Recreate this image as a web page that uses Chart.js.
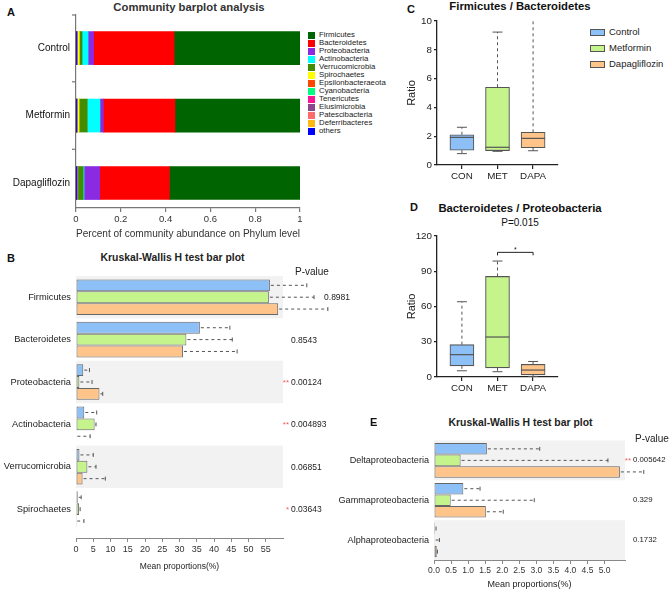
<!DOCTYPE html>
<html><head><meta charset="utf-8">
<script src="https://cdn.jsdelivr.net/npm/chart.js@4.4.1/dist/chart.umd.min.js"></script>
<style>
html,body{margin:0;padding:0;background:#fff;}
body{width:669px;height:593px;position:relative;overflow:hidden;font-family:"Liberation Sans",Arial,sans-serif;}
</style></head><body>
<script>
// ---------------- DATA ----------------
// Panel A
const groupsA = ['Control', 'Metformin', 'Dapagliflozin'];
const phyla = ['Firmicutes','Bacteroidetes','Proteobacteria','Actinobacteria','Verrucomicrobia','Spirochaetes','Epsilonbacteraeota','Cyanobacteria','Tenericutes','Elusimicrobia','Patescibacteria','Deferribacteres','others'];
const phylaColors = ['#006400','#FF0000','#8A2BE2','#00FFFF','#458B00','#FFFF00','#FF4500','#00FF7F','#FF1493','#8B478B','#FF6A6A','#FFB90F','#0000FF'];
const abundControl = [0.562,0.359,0.025,0.027,0.012,0.008,0.001,0.001,0.001,0.0005,0.001,0.001,0.0015];
const abundMetformin = [0.558,0.320,0.015,0.057,0.036,0.008,0.001,0.0005,0.001,0.0005,0.001,0.001,0.001];
const abundDapagliflozin = [0.583,0.311,0.070,0.004,0.024,0.001,0.001,0.0005,0.002,0.001,0.001,0.0005,0.001];
const xTicksA = [0, 0.2, 0.4, 0.6, 0.8, 1];

// Panel B
const groupNames = ['Control', 'Metformin', 'Dapagliflozin'];
const groupColors = ['#8EC0F8', '#C6F48C', '#FEC489'];
const kwPhyla = ['Firmicutes','Bacteroidetes','Proteobacteria','Actinobacteria','Verrucomicrobia','Spirochaetes'];
const kwControl = [56.2, 35.9, 2.1, 2.4, 1.0, 0.5];
const kwControlSd = [10.7, 8.7, 1.8, 3.6, 4.0, 1.0];
const kwMetformin = [55.9, 32.0, 0.97, 5.4, 3.3, 0.9];
const kwMetforminSd = [13.1, 13.3, 3.68, 0.4, 2.5, 0.3];
const kwDapagliflozin = [58.6, 31.0, 6.8, 0.1, 1.9, 0.05];
const kwDapagliflozinSd = [14.4, 15.7, 0.95, 4.0, 6.6, 2.25];
const kwP = ['0.8981', '0.8543', '0.00124', '0.004893', '0.06851', '0.03643'];
const kwStars = ['', '', '**', '**', '', '*'];

// Panel C
const boxLabels = ['CON', 'MET', 'DAPA'];
const fbMin = [0.79, 0.95, 0.99];
const fbQ1 = [1.03, 1.0, 1.2];
const fbMed = [1.92, 1.23, 1.85];
const fbQ3 = [2.1, 5.4, 2.27];
const fbMax = [2.62, 9.23, 13.0];

// Panel D
const bpMin = [5.3, 4.5, 0.5];
const bpQ1 = [9.5, 7.8, 1.8];
const bpMed = [19.0, 34.0, 5.9];
const bpQ3 = [27.5, 85.5, 10.7];
const bpMax = [64.0, 98.6, 13.2];
const bpSigPair = [1, 2];
const bpSigLevel = 106;
const bpSigLabel = '*';
const bpPText = 'P=0.015';

// Panel E
const kwClasses = ['Deltaproteobacteria','Gammaproteobacteria','Alphaproteobacteria'];
const eControl = [1.55, 0.86, 0.03];
const eControlSd = [1.55, 0.49, 0.03];
const eMetformin = [0.78, 0.49, 0.02];
const eMetforminSd = [4.32, 2.45, 0.14];
const eDapagliflozin = [5.45, 1.52, 0.08];
const eDapagliflozinSd = [0.70, 0.51, 0.02];
const eP = ['0.005642', '0.329', '0.1732'];
const eStars = ['**', '', ''];

// ---------------- HELPERS ----------------
const FONT = "'Liberation Sans', Arial, sans-serif";
Chart.defaults.font.family = FONT;
Chart.defaults.color = '#222';
Chart.defaults.animation = false;
Chart.defaults.plugins.legend.display = false;
Chart.defaults.plugins.tooltip.enabled = false;

function mkCanvas(left, top, w, h) {
  const c = document.createElement('canvas');
  c.width = w; c.height = h;
  c.style.cssText = `position:absolute;left:${left}px;top:${top}px;width:${w}px;height:${h}px;`;
  document.body.appendChild(c);
  return c;
}
function txt(s, x, y, o = {}) {
  const d = document.createElement('div');
  d.textContent = s;
  const ax = o.align === 'center' ? '-50%' : o.align === 'right' ? '-100%' : '0';
  d.style.cssText = `position:absolute;left:${x}px;top:${y}px;transform:translate(${ax},-50%);white-space:nowrap;line-height:1;font-size:${o.size || 10}px;font-weight:${o.bold ? 'bold' : 'normal'};color:${o.color || '#111'};`;
  document.body.appendChild(d);
  return d;
}
function box(x, y, w, h, color, border) {
  const d = document.createElement('div');
  d.style.cssText = `position:absolute;left:${x}px;top:${y}px;width:${w}px;height:${h}px;background:${color};box-sizing:border-box;${border ? 'border:1px solid ' + border + ';' : ''}`;
  document.body.appendChild(d);
}

// ---------------- PANEL A ----------------
txt('A', 7, 12, {size: 11, bold: true});
txt('Community barplot analysis', 189, 8, {size: 11.3, bold: true, align: 'center', color: '#333'});
const abundByGroup = [abundControl, abundMetformin, abundDapagliflozin];
const dsA = phyla.map((p, k) => ({
  label: p,
  data: abundByGroup.map((a, g) => ({x: a[k], y: g + 1})),
  backgroundColor: phylaColors[k],
  borderWidth: 0,
  barThickness: 33
})).reverse();
const bandTickPlugin = {
  id: 'bandticks',
  afterDraw(chart) {
    const ys = chart.scales.y, ctx = chart.ctx, x = chart.chartArea.left;
    const vals = [ys.min];
    for (let i = 1; i < groupsA.length; i++) vals.push(i + 0.5);
    ctx.save(); ctx.strokeStyle = '#777'; ctx.lineWidth = 1.2;
    vals.forEach(v => { const y = ys.getPixelForValue(v); ctx.beginPath(); ctx.moveTo(x - 4, y); ctx.lineTo(x, y); ctx.stroke(); });
    ctx.restore();
  }
};
new Chart(mkCanvas(0, 0, 305, 240), {
  type: 'bar',
  data: {datasets: dsA},
  plugins: [bandTickPlugin],
  options: {
    responsive: false, indexAxis: 'y',
    layout: {padding: {top: 15, left: 0, right: 5, bottom: 0}},
    scales: {
      x: {
        type: 'linear', stacked: true, min: 0, max: 1,
        afterBuildTicks: s => { s.ticks = xTicksA.map(v => ({value: v})); },
        afterFit: s => { s.height = 32; },
        ticks: {font: {size: 9.5}, color: '#333', padding: 2, maxRotation: 0,
          callback: v => (v === 0 || v === 1) ? String(v) : v.toFixed(1)},
        grid: {drawOnChartArea: false, tickLength: 4, color: '#777', lineWidth: 1.2},
        border: {color: '#777', width: 1.2},
        title: {display: true, text: 'Percent of community abundance on Phylum level', font: {size: 10.5}, color: '#333', padding: 0}
      },
      y: {
        type: 'linear', stacked: true, reverse: true, min: 0.51, max: 3.37, offset: false,
        afterBuildTicks: s => { s.ticks = groupsA.map((_, i) => ({value: i + 1})); },
        afterFit: s => { s.width = 76; },
        ticks: {font: {size: 10}, color: '#111', padding: 6, callback: v => groupsA[Math.round(v) - 1]},
        grid: {offset: false, drawOnChartArea: false, drawTicks: false},
        border: {color: '#777', width: 1.2}
      }
    }
  }
});
phyla.forEach((p, i) => {
  const cy = 35 + i * 8;
  box(308, cy - 3.5, 7, 7, phylaColors[i]);
  txt(p, 319, cy, {size: 7.8, color: '#222'});
});

// ---------------- shared plugins ----------------
const bandPlugin = {
  id: 'bands',
  beforeDatasetsDraw(chart) {
    const ys = chart.scales.y, ca = chart.chartArea;
    const n = chart.data.datasets[0].data.length;
    const ctx = chart.ctx;
    ctx.save();
    ctx.fillStyle = '#F2F2F2';
    for (let i = 0; i < n; i += 2) {
      const y0 = ys.getPixelForValue(i - 0.5), y1 = ys.getPixelForValue(i + 0.5);
      ctx.fillRect(ca.left, y0, ca.right - ca.left, y1 - y0);
    }
    ctx.restore();
  }
};
const errPlugin = {
  id: 'errbars',
  afterDatasetsDraw(chart, args, opts) {
    const ctx = chart.ctx, xs = chart.scales.x;
    ctx.save();
    ctx.strokeStyle = '#555'; ctx.lineWidth = 1;
    chart.data.datasets.forEach((ds, di) => {
      const meta = chart.getDatasetMeta(di);
      meta.data.forEach((bar, i) => {
        const m = ds.data[i].x, sd = opts.sds[di][i];
        const x0 = xs.getPixelForValue(m), x1 = xs.getPixelForValue(m + sd), y = bar.y;
        ctx.setLineDash([3, 3]);
        ctx.beginPath(); ctx.moveTo(x0 + 1, y); ctx.lineTo(x1, y); ctx.stroke();
        ctx.setLineDash([]);
        ctx.beginPath(); ctx.moveTo(x1, y - 2); ctx.lineTo(x1, y + 2); ctx.stroke();
      });
    });
    ctx.restore();
  }
};

function kwChart(canvas, labels, series, sds, cfg) {
  return new Chart(canvas, {
    type: 'bar',
    data: {
      datasets: series.map((d, i) => ({
        label: groupNames[i], data: d.map((v, k) => ({x: v, y: k})),
        backgroundColor: groupColors[i], borderColor: '#666', borderWidth: 1, borderSkipped: false,
        barPercentage: 1, categoryPercentage: cfg.catPct, clip: false
      }))
    },
    plugins: [bandPlugin, errPlugin],
    options: {
      responsive: false, indexAxis: 'y',
      layout: {padding: cfg.padding},
      plugins: {errbars: {sds}},
      scales: {
        x: {
          type: 'linear', min: 0, max: cfg.xMax,
          ticks: {stepSize: cfg.step, font: {size: cfg.tickSize}, color: '#333', padding: 2, maxRotation: 0,
            callback: cfg.fmt},
          afterBuildTicks: s => { s.ticks = s.ticks.filter(t => t.value <= cfg.lastTick + 1e-6); },
          afterFit: s => { s.height = cfg.xH; },
          grid: {drawOnChartArea: false, tickLength: 4, color: '#888'},
          border: {color: '#888'},
          title: {display: true, text: 'Mean proportions(%)', font: {size: cfg.titleSize}, color: '#222', padding: 0}
        },
        y: {
          type: 'linear', reverse: true, min: -0.5, max: cfg.yMax, offset: false,
          afterBuildTicks: s => { s.ticks = labels.map((_, i) => ({value: i})); },
          afterFit: s => { s.width = cfg.yW; },
          ticks: {font: {size: cfg.labelSize}, color: '#222', padding: 5, callback: v => labels[Math.round(v)]},
          grid: {offset: false, display: false, drawTicks: false},
          border: {display: false}
        }
      }
    }
  });
}
function pvalues(chart, top, pv, stars, midSd, midVal, headerX, headerY, pSize, baseX) {
  const ys = chart.scales.y, xs = chart.scales.x;
  const left = chart.canvas.offsetLeft;
  txt('P-value', headerX, headerY, {size: 10, color: '#222'});
  pv.forEach((p, i) => {
    const y = top + ys.getPixelForValue(i);
    const errEnd = left + xs.getPixelForValue(midVal[i] + midSd[i]) + 10;
    const x = Math.max(baseX, errEnd);
    txt(p, x, y, {size: pSize, color: '#222'});
    if (stars[i]) txt(stars[i], x - 2, y + 1, {size: 8, color: '#F06060', align: 'right'});
  });
}

// ---------------- PANEL B ----------------
txt('B', 7, 258, {size: 11, bold: true});
txt('Kruskal-Wallis H test bar plot', 172.5, 258, {size: 10.4, bold: true, align: 'center', color: '#222'});
const chB = kwChart(mkCanvas(0, 250, 340, 322), kwPhyla,
  [kwControl, kwMetformin, kwDapagliflozin], [kwControlSd, kwMetforminSd, kwDapagliflozinSd],
  {catPct: 0.84, padding: {top: 26, left: 0, right: 57, bottom: 0}, xMax: 60, step: 5, lastTick: 55,
   tickSize: 9, fmt: v => String(v), xH: 34, yW: 76, titleSize: 8.5, yMax: 5.68, labelSize: 9.3});
pvalues(chB, 250, kwP, kwStars, kwMetforminSd, kwMetformin, 295, 272, 8.5, 291);

// ---------------- PANEL E ----------------
txt('E', 370, 422, {size: 11, bold: true});
txt('Kruskal-Wallis H test bar plot', 520.5, 423, {size: 10.4, bold: true, align: 'center', color: '#222'});
const chE = kwChart(mkCanvas(330, 430, 339, 160), kwClasses,
  [eControl, eMetformin, eDapagliflozin], [eControlSd, eMetforminSd, eDapagliflozinSd],
  {catPct: 0.868, padding: {top: 9, left: 0, right: 44, bottom: 0}, xMax: 5.6, step: 0.5, lastTick: 5.0,
   tickSize: 8.5, fmt: v => v.toFixed(1), xH: 30, yW: 104, titleSize: 9, yMax: 2.5, labelSize: 9.1});
pvalues(chE, 430, eP, eStars, eMetforminSd, eMetformin, 635, 439, 7.8, 633);

// ---------------- PANELS C & D (box plots) ----------------
function boxPlugin(mins, q1s, meds, q3s, maxs, sig) {
  return {
    id: 'boxwhisk',
    afterDatasetsDraw(chart) {
      const ctx = chart.ctx, xs = chart.scales.x, ys = chart.scales.y, ca = chart.chartArea;
      ctx.save();
      ctx.beginPath(); ctx.rect(ca.left, ca.top - 1, ca.right - ca.left, ca.bottom - ca.top + 2); ctx.clip();
      ctx.strokeStyle = '#555'; ctx.lineWidth = 1;
      boxLabels.forEach((_, i) => {
        const xc = xs.getPixelForValue(i);
        const yMin = ys.getPixelForValue(mins[i]), yQ1 = ys.getPixelForValue(q1s[i]);
        const yQ3 = ys.getPixelForValue(q3s[i]), yMax = ys.getPixelForValue(maxs[i]);
        const yMed = ys.getPixelForValue(meds[i]);
        ctx.setLineDash([3, 3]);
        ctx.beginPath(); ctx.moveTo(xc, yQ3); ctx.lineTo(xc, yMax); ctx.stroke();
        ctx.beginPath(); ctx.moveTo(xc, yQ1); ctx.lineTo(xc, yMin); ctx.stroke();
        ctx.setLineDash([]);
        ctx.beginPath(); ctx.moveTo(xc - 5, yMax); ctx.lineTo(xc + 5, yMax); ctx.stroke();
        ctx.beginPath(); ctx.moveTo(xc - 5, yMin); ctx.lineTo(xc + 5, yMin); ctx.stroke();
        ctx.lineWidth = 1.2;
        ctx.beginPath(); ctx.moveTo(xc - 12, yMed); ctx.lineTo(xc + 12, yMed); ctx.stroke();
        ctx.lineWidth = 1;
      });
      ctx.restore();
      if (sig) {
        const xa = xs.getPixelForValue(sig.pair[0]), xb = xs.getPixelForValue(sig.pair[1]);
        const y = ys.getPixelForValue(sig.level);
        ctx.save(); ctx.strokeStyle = '#222'; ctx.lineWidth = 1;
        ctx.beginPath(); ctx.moveTo(xa, y + 3); ctx.lineTo(xa, y); ctx.lineTo(xb, y); ctx.lineTo(xb, y + 3); ctx.stroke();
        ctx.restore();
      }
    }
  };
}
function boxChart(canvas, q1s, q3s, plugin, cfg) {
  return new Chart(canvas, {
    type: 'bar',
    data: {
      datasets: [{
        data: boxLabels.map((l, i) => ({x: i, y: [q1s[i], q3s[i]]})),
        backgroundColor: groupColors, borderColor: '#555', borderWidth: 1.1, borderSkipped: false,
        barThickness: 24
      }]
    },
    plugins: [plugin],
    options: {
      responsive: false,
      layout: {padding: cfg.padding},
      scales: {
        x: {
          type: 'linear', min: -0.7, max: 2.7, offset: false,
          afterBuildTicks: s => { s.ticks = boxLabels.map((_, i) => ({value: i})); },
          afterFit: s => { s.height = 20; },
          ticks: {font: {size: 9.8}, color: '#222', padding: 1, maxRotation: 0,
            callback: v => boxLabels[Math.round(v)]},
          grid: {offset: false, drawOnChartArea: false, tickLength: 4, color: '#222', lineWidth: 1.2},
          border: {color: '#222', width: 1.3}
        },
        y: {
          min: 0, max: cfg.yMax,
          afterFit: s => { s.width = 32; },
          ticks: {stepSize: cfg.step, font: {size: 9.8}, color: '#222', padding: 2},
          grid: {drawOnChartArea: false, tickLength: 3, color: '#222', lineWidth: 1.2},
          border: {color: '#222', width: 1.3},
          title: {display: true, text: 'Ratio', font: {size: 11}, color: '#222', padding: 0}
        }
      }
    }
  });
}

// Panel C
txt('C', 407, 9, {size: 11, bold: true});
txt('Firmicutes / Bacteroidetes', 520, 7, {size: 11.3, bold: true, align: 'center', color: '#111'});
boxChart(mkCanvas(390, 0, 175, 185), fbQ1, fbQ3,
  boxPlugin(fbMin, fbQ1, fbMed, fbQ3, fbMax, null),
  {padding: {top: 21, left: 15, right: 7, bottom: 0}, yMax: 10, step: 2});
groupNames.forEach((g, i) => {
  const cy = 32 + i * 16;
  box(590, cy - 3.5, 15, 7, groupColors[i], '#555');
  txt(g, 609, cy, {size: 9.5, color: '#222'});
});

// Panel D
txt('D', 410, 207, {size: 11, bold: true});
txt('Bacteroidetes / Proteobacteria', 520, 209, {size: 11.3, bold: true, align: 'center', color: '#111'});
txt(bpPText, 520, 223, {size: 10, align: 'center', color: '#111'});
const chD = boxChart(mkCanvas(390, 228, 175, 169), bpQ1, bpQ3,
  boxPlugin(bpMin, bpQ1, bpMed, bpQ3, bpMax, {pair: bpSigPair, level: bpSigLevel}),
  {padding: {top: 6, left: 15, right: 7, bottom: 0}, yMax: 120, step: 30});
{
  const xs = chD.scales.x, ys = chD.scales.y;
  const xm = (xs.getPixelForValue(bpSigPair[0]) + xs.getPixelForValue(bpSigPair[1])) / 2;
  txt(bpSigLabel, 390 + xm, 228 + ys.getPixelForValue(bpSigLevel) - 3, {size: 7, align: 'center', color: '#222'});
}
</script>
</body></html>
